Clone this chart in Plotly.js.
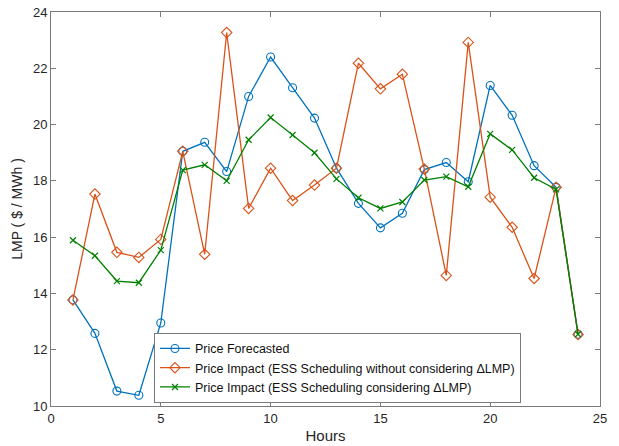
<!DOCTYPE html>
<html>
<head>
<meta charset="utf-8">
<script src="https://cdn.plot.ly/plotly-3.0.1.min.js"></script>
<style>html,body{margin:0;padding:0;background:#fff;}#chart{width:619px;height:446px;}</style>
</head>
<body>
<div id="chart"></div>
<script>
const hours = [1,2,3,4,5,6,7,8,9,10,11,12,13,14,15,16,17,18,19,20,21,22,23,24];
const priceForecasted = [13.77,12.58,10.53,10.38,12.95,19.05,19.37,18.33,21.0,22.4,21.31,20.23,18.45,17.2,16.33,16.85,18.4,18.65,17.97,21.39,20.33,18.54,17.77,12.55];
const priceImpactNoDLMP = [13.77,17.53,15.46,15.28,15.92,19.05,15.39,23.27,17.02,18.45,17.3,17.85,18.45,22.18,21.27,21.79,18.42,14.64,22.92,17.42,16.35,14.53,17.77,12.54];
const priceImpactDLMP = [15.89,15.34,14.44,14.38,15.54,18.38,18.57,18.0,19.46,20.25,19.63,19.0,18.07,17.4,17.02,17.25,18.03,18.15,17.79,19.67,19.1,18.11,17.7,12.55];
const seriesNames = [
  'Price Forecasted',
  'Price Impact (ESS Scheduling without considering \u0394LMP)',
  'Price Impact (ESS Scheduling considering \u0394LMP)'
];
const xTicks = [0,5,10,15,20,25];
const yTicks = [10,12,14,16,18,20,22,24];

const traces = [
  {x: hours, y: priceForecasted, name: seriesNames[0], mode: 'lines+markers',
   line: {color: '#0072BD', width: 1.3}, marker: {symbol: 'circle-open', size: 8, color: '#0072BD', line: {width: 1.1}}},
  {x: hours, y: priceImpactNoDLMP, name: seriesNames[1], mode: 'lines+markers',
   line: {color: '#D95319', width: 1.3}, marker: {symbol: 'diamond-open', size: 8, color: '#D95319', line: {width: 1.1}}},
  {x: hours, y: priceImpactDLMP, name: seriesNames[2], mode: 'lines+markers',
   line: {color: '#008000', width: 1.3}, marker: {symbol: 'x-thin-open', size: 6, color: '#008000', line: {width: 1.2, color: '#008000'}}}
];

const axisCommon = {
  showgrid: false, zeroline: false, showline: true, mirror: 'ticks',
  linecolor: '#7a7a7a', linewidth: 1, ticks: 'inside', ticklen: 5, tickcolor: '#7a7a7a',
  tickfont: {family: 'Liberation Sans, Arial, sans-serif', size: 13, color: '#262626'}
};

const layout = {
  width: 619, height: 446,
  margin: {l: 51, r: 19, t: 12, b: 40},
  paper_bgcolor: '#fff', plot_bgcolor: '#fff',
  font: {family: 'Liberation Sans, Arial, sans-serif', color: '#262626'},
  showlegend: true,
  xaxis: Object.assign({}, axisCommon, {range: [0, 25], tickvals: xTicks,
    title: {text: 'Hours', font: {size: 15, color: '#262626'}, standoff: 5}}),
  yaxis: Object.assign({}, axisCommon, {range: [10, 24], tickvals: yTicks,
    title: {text: 'LMP ( $ / MWh )', font: {size: 14, color: '#262626'}, standoff: 7}}),
  legend: {x: 0.1876, y: 0.008, xanchor: 'left', yanchor: 'bottom',
    bgcolor: '#fff', bordercolor: '#7a7a7a', borderwidth: 1,
    font: {family: 'Liberation Sans, Arial, sans-serif', size: 12.5, color: '#111'},
    itemwidth: 30, tracegroupgap: 0}
};

Plotly.newPlot('chart', traces, layout, {displayModeBar: false, staticPlot: true});
</script>
</body>
</html>
